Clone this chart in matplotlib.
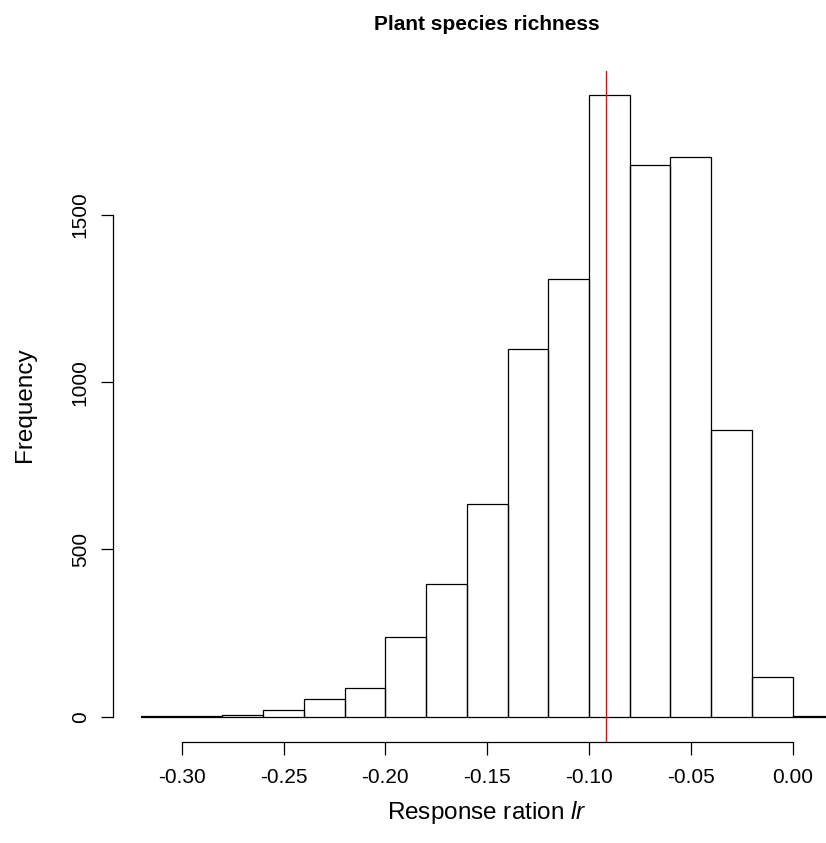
import matplotlib
matplotlib.use("Agg")
import matplotlib.pyplot as plt
import numpy as np

plt.rcParams["font.family"] = ["Liberation Sans", "DejaVu Sans"]
plt.rcParams["mathtext.fontset"] = "custom"
plt.rcParams["mathtext.rm"] = "Liberation Sans"
plt.rcParams["mathtext.it"] = "Liberation Sans:italic"

# bootstrap distribution of the response ratio, binned at 0.02
bin_edges = [-0.32, -0.30, -0.28, -0.26, -0.24, -0.22, -0.20, -0.18, -0.16,
             -0.14, -0.12, -0.10, -0.08, -0.06, -0.04, -0.02, 0.00, 0.02]
counts = [1, 1, 6, 20, 53, 85, 238, 396, 636, 1098, 1307, 1857, 1649, 1673,
          858, 118, 3]
mean_lr = -0.0916
x_ticks = [-0.30, -0.25, -0.20, -0.15, -0.10, -0.05, 0.00]
y_ticks = [0, 500, 1000, 1500]

W, H = 826, 843
fig = plt.figure(figsize=(W / 100, H / 100), dpi=100)

# plot region in pixels (extends past the right edge like the R device did)
left, right, top, bottom = 113.3, 861.0, 70.5, 741.5
ax = fig.add_axes([left / W, 1 - bottom / H, (right - left) / W, (bottom - top) / H])

edges = np.array(bin_edges)
ax.bar(edges[:-1], counts, width=np.diff(edges), align="edge",
       fill=False, edgecolor="black", linewidth=0.9)
ax.axvline(mean_lr, color="red", linewidth=1.0)

# R style 4% padding on both axes
xpad = 0.04 * (edges[-1] - edges[0])
ax.set_xlim(edges[0] - xpad, edges[-1] + xpad)
ypad = 0.04 * max(counts)
ax.set_ylim(-ypad, max(counts) + ypad)

for s in ["top", "right"]:
    ax.spines[s].set_visible(False)
ax.spines["left"].set_bounds(y_ticks[0], y_ticks[-1])
ax.spines["bottom"].set_bounds(x_ticks[0], x_ticks[-1])
for s in ["left", "bottom"]:
    ax.spines[s].set_linewidth(0.9)

ax.set_xticks(x_ticks)
ax.set_xticklabels([f"{v:.2f}" for v in x_ticks])
ax.set_yticks(y_ticks)
ax.set_yticklabels([str(v) for v in y_ticks], rotation=90, va="center")
ax.tick_params(length=9, width=0.9, labelsize=15)
ax.tick_params(axis="x", pad=10)
ax.tick_params(axis="y", pad=8)

fig.text(487 / W, 1 - 25 / H, "Plant species richness", ha="center", va="center",
         fontsize=15, fontweight="bold")
fig.text(487 / W, 1 - 813 / H, r"Response ration $\mathit{lr}$", ha="center",
         va="center", fontsize=17.5)
fig.text(25 / W, 1 - 405 / H, "Frequency", ha="center", va="center",
         rotation=90, fontsize=17.5)

fig.savefig("out.png", dpi=100)
